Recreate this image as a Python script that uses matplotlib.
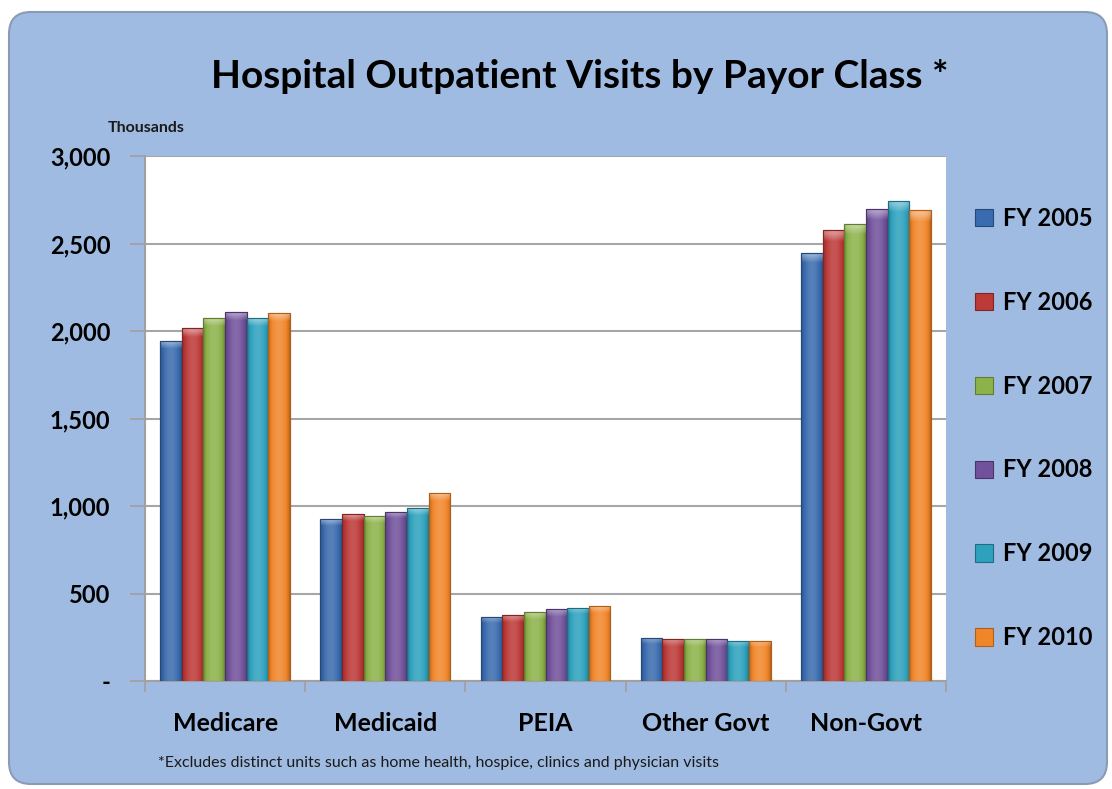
import matplotlib
matplotlib.use("Agg")
import matplotlib.pyplot as plt
import numpy as np
from matplotlib.patches import FancyBboxPatch
from matplotlib.transforms import IdentityTransform
from matplotlib.ticker import FuncFormatter
from matplotlib.colors import to_rgb

categories = ["Medicare", "Medicaid", "PEIA", "Other Govt", "Non-Govt"]
series_labels = ["FY 2005", "FY 2006", "FY 2007", "FY 2008", "FY 2009", "FY 2010"]
fy2005 = [1945, 924, 367, 246, 2448]
fy2006 = [2015, 953, 375, 240, 2577]
fy2007 = [2076, 941, 392, 240, 2613]
fy2008 = [2110, 967, 411, 240, 2699]
fy2009 = [2076, 987, 419, 230, 2745]
fy2010 = [2103, 1073, 427, 230, 2690]
series = [fy2005, fy2006, fy2007, fy2008, fy2009, fy2010]
colors = ["#3A6BAE", "#BC3A38", "#8DB24A", "#71519B", "#2EA1BD", "#F0862A"]
edges = ["#24497A", "#822422", "#5F7E2C", "#4B3468", "#1C6F83", "#B35E17"]
yticks = [0, 500, 1000, 1500, 2000, 2500, 3000]

plt.rcParams['font.family'] = ['Lato', 'DejaVu Sans']

W, H = 1112, 789
fig = plt.figure(figsize=(W / 100, H / 100), dpi=100, facecolor="white")

panel = FancyBboxPatch((9, 5), 1098, 772, boxstyle="round,pad=0,rounding_size=22",
                       transform=IdentityTransform(), facecolor="#A0BBE1",
                       edgecolor="#8A9CB5", linewidth=1.5, zorder=0)
fig.patches.append(panel)

ax = fig.add_axes([145 / W, 1 - 681 / H, 801 / W, 525 / H])
ax.set_facecolor("white")
ax.set_zorder(1)


def shade(base, h, cap=38.0):
    base = np.array(to_rgb(base))
    nx, ny = 48, 60
    t = np.linspace(0, 1, nx)
    b = 0.72 + 0.42 * np.sin(np.pi * t) ** 0.6
    row = np.empty((nx, 3))
    for k in range(nx):
        if b[k] <= 1:
            row[k] = base * b[k]
        else:
            row[k] = base + (1 - base) * (b[k] - 1)
    img = np.repeat(row[None, :, :], ny, axis=0)
    frac = min(cap / h, 0.3)
    ncap = max(1, int(round(frac * ny)))
    for r in range(ncap):
        w = 0.35 * (1 - r / ncap)
        img[r] = img[r] + (1 - img[r]) * w
    return np.clip(img, 0, 1)


n = len(series)
bw = 0.135
x = np.arange(len(categories))
for i, (vals, lab) in enumerate(zip(series, series_labels)):
    offs = (i - (n - 1) / 2) * bw
    bars = ax.bar(x + offs, vals, width=bw, color=colors[i], edgecolor=edges[i],
                  linewidth=0.8, label=lab, zorder=3)
    for rect in bars:
        x0, y0 = rect.get_x(), rect.get_y()
        w, h = rect.get_width(), rect.get_height()
        im = ax.imshow(shade(colors[i], h), extent=[x0, x0 + w, y0, y0 + h],
                       aspect="auto", zorder=3.5, interpolation="bilinear",
                       origin="upper")
        im.set_clip_path(rect)
    for rect in bars:
        r2 = plt.Rectangle((rect.get_x(), rect.get_y()), rect.get_width(), rect.get_height(),
                           fill=False, edgecolor=edges[i], linewidth=0.8, zorder=3.6)
        ax.add_patch(r2)

ax.set_xlim(-0.5, len(categories) - 0.5)
ax.set_ylim(0, 3000)
ax.set_aspect("auto")
ax.set_yticks(yticks)
ax.yaxis.set_major_formatter(FuncFormatter(lambda v, p: "-" if v == 0 else f"{int(v):,}"))
ax.grid(axis="y", color="#A6A6A6", linewidth=1.5, zorder=0)
ax.set_axisbelow(True)

for s in ["top", "right"]:
    ax.spines[s].set_visible(False)
ax.spines["left"].set_color("#A0A0A0")
ax.spines["left"].set_linewidth(1.5)
ax.spines["bottom"].set_color("#A0A0A0")
ax.spines["bottom"].set_linewidth(1.5)

ax.tick_params(axis="y", direction="out", length=11, width=1.2, color="#A0A0A0",
               labelsize=17, pad=14)
for t in ax.get_yticklabels():
    t.set_fontweight("bold")

ax.set_xticks(x)
ax.set_xticklabels(categories, fontsize=18, fontweight="bold")
ax.tick_params(axis="x", length=0, pad=22)
ax.set_xticks(np.arange(-0.5, len(categories), 1.0), minor=True)
ax.tick_params(axis="x", which="minor", direction="out", length=8, width=1.2, color="#A0A0A0")

fig.text(580 / W, 1 - 77 / H, "Hospital Outpatient Visits by Payor Class *", ha="center",
         va="center", fontsize=28, fontweight="bold", color="black")
fig.text(108 / W, 1 - 128 / H, "Thousands", ha="left", va="center", fontsize=11.5,
         fontweight="bold", color="#1a1a1a")
fig.text(158 / W, 1 - 763 / H,
         "*Excludes distinct units such as home health, hospice, clinics and physician visits",
         ha="left", va="center", fontsize=11.5, color="#1a1a1a")

handles, labels = ax.get_legend_handles_labels()
leg = fig.legend(handles, labels, loc="center left", bbox_to_anchor=(975 / W, 1 - 428 / H),
                 frameon=False, fontsize=17, labelspacing=2.58, handlelength=0.75,
                 handleheight=0.75, handletextpad=0.45, borderaxespad=0, borderpad=0)
for t in leg.get_texts():
    t.set_fontweight("bold")

fig.savefig("out.png", dpi=100, facecolor="white")
